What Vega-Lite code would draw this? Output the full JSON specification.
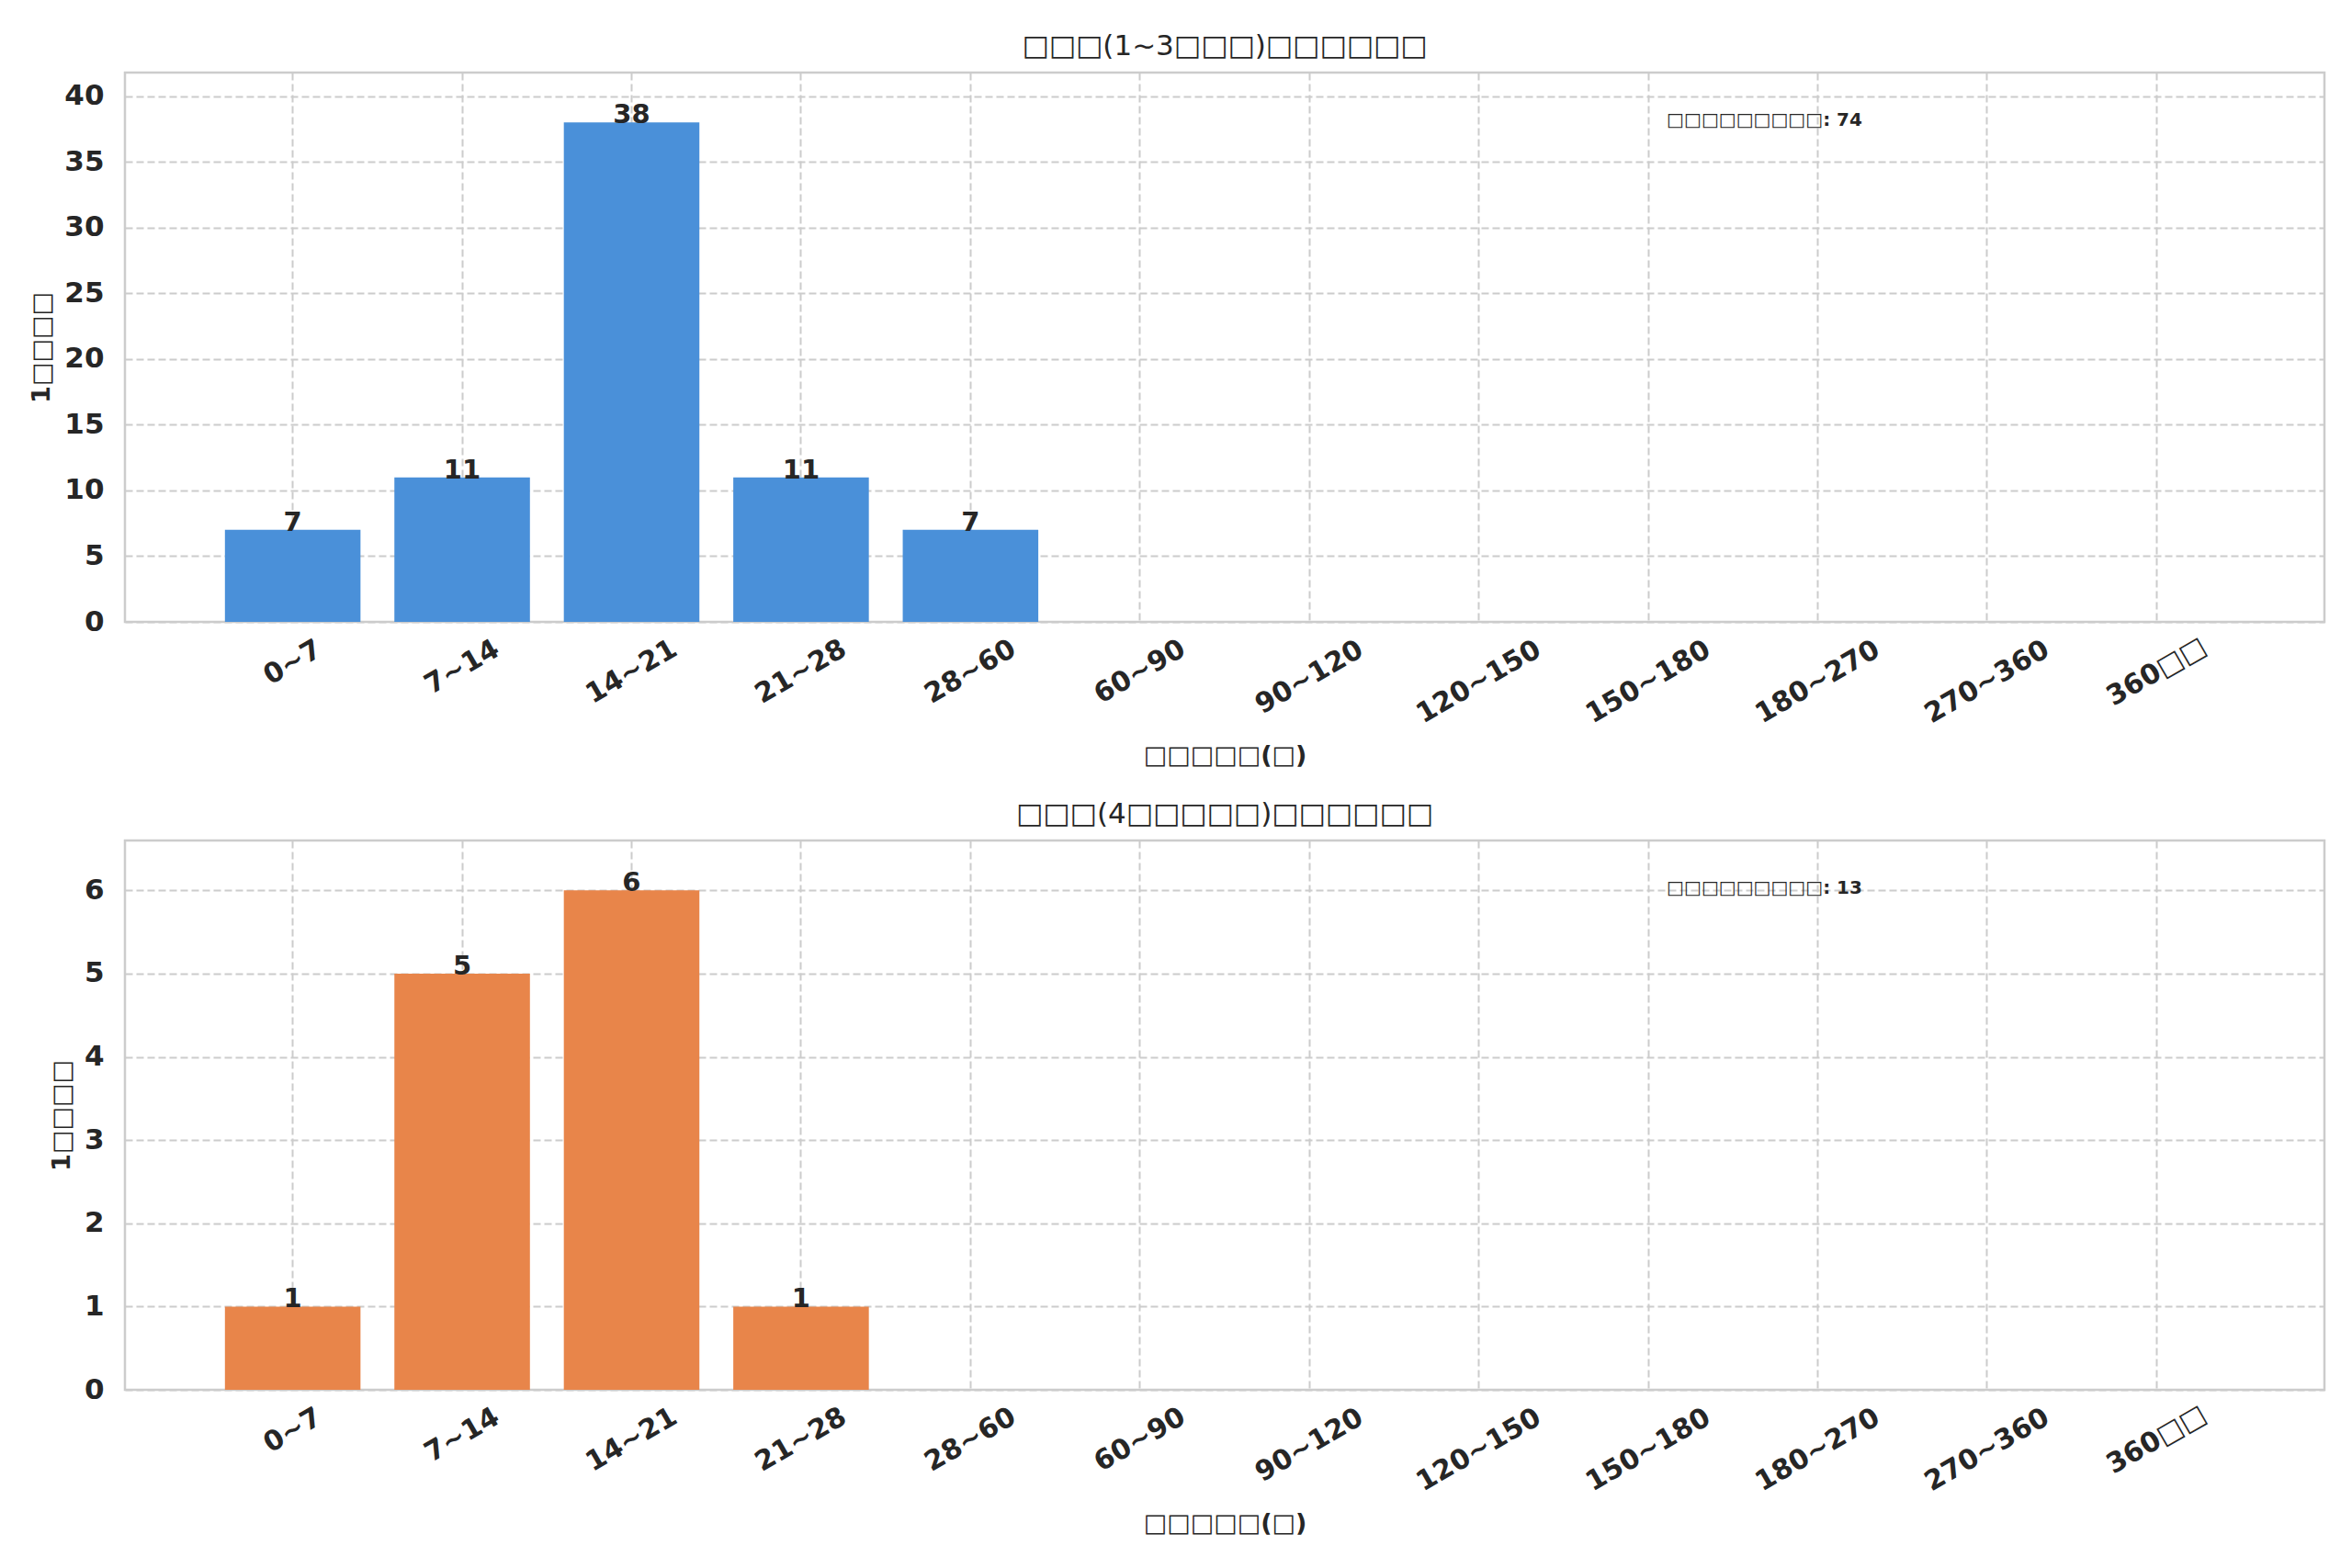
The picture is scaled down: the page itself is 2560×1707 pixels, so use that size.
{
  "$schema": "https://vega.github.io/schema/vega-lite/v6.json",
  "background": "white",
  "padding": {"left": 30, "top": 33, "right": 31, "bottom": 10},
  "datasets": {
    "young": [
      {"bin": "0~7", "count": 7},
      {"bin": "7~14", "count": 11},
      {"bin": "14~21", "count": 38},
      {"bin": "21~28", "count": 11},
      {"bin": "28~60", "count": 7},
      {"bin": "60~90", "count": 0},
      {"bin": "90~120", "count": 0},
      {"bin": "120~150", "count": 0},
      {"bin": "150~180", "count": 0},
      {"bin": "180~270", "count": 0},
      {"bin": "270~360", "count": 0},
      {"bin": "360□□", "count": 0}
    ],
    "old": [
      {"bin": "0~7", "count": 1},
      {"bin": "7~14", "count": 5},
      {"bin": "14~21", "count": 6},
      {"bin": "21~28", "count": 1},
      {"bin": "28~60", "count": 0},
      {"bin": "60~90", "count": 0},
      {"bin": "90~120", "count": 0},
      {"bin": "120~150", "count": 0},
      {"bin": "150~180", "count": 0},
      {"bin": "180~270", "count": 0},
      {"bin": "270~360", "count": 0},
      {"bin": "360□□", "count": 0}
    ],
    "young_note": [{"bin": "150~180", "label": "□□□□□□□□□: 74"}],
    "old_note": [{"bin": "150~180", "label": "□□□□□□□□□: 13"}]
  },
  "spacing": 32,
  "vconcat": [
    {
      "width": 2394,
      "height": 598,
      "title": "□□□(1~3□□□)□□□□□□",
      "encoding": {
        "x": {
          "field": "bin",
          "type": "nominal",
          "sort": null,
          "title": "□□□□□(□)",
          "scale": {
            "domain": ["0~7", "7~14", "14~21", "21~28", "28~60", "60~90", "90~120", "120~150", "150~180", "180~270", "270~360", "360□□"],
            "paddingInner": 0.2,
            "paddingOuter": 0.59
          }
        }
      },
      "layer": [
        {
          "data": {"name": "young"},
          "mark": {"type": "bar", "color": "#4A90D9"},
          "encoding": {
            "y": {
              "field": "count",
              "type": "quantitative",
              "title": "1□□□□",
              "scale": {"domain": [0, 41.8], "nice": false},
              "axis": {"values": [0, 5, 10, 15, 20, 25, 30, 35, 40], "format": "d"}
            }
          }
        },
        {
          "data": {"name": "young"},
          "transform": [{"filter": "datum.count > 0"}],
          "mark": {"type": "text", "baseline": "alphabetic", "dy": 1, "fontSize": 29, "fontWeight": "bold", "font": "DejaVu Sans", "color": "#262626"},
          "encoding": {
            "y": {"field": "count", "type": "quantitative"},
            "text": {"field": "count"}
          }
        },
        {
          "data": {"name": "young_note"},
          "mark": {"type": "text", "align": "left", "baseline": "middle", "dx": 20, "fontSize": 20, "fontWeight": "bold", "font": "DejaVu Sans", "color": "#262626"},
          "encoding": {
            "y": {"datum": 38.2, "type": "quantitative"},
            "text": {"field": "label", "type": "nominal"}
          }
        }
      ]
    },
    {
      "width": 2394,
      "height": 598,
      "title": "□□□(4□□□□□)□□□□□□",
      "encoding": {
        "x": {
          "field": "bin",
          "type": "nominal",
          "sort": null,
          "title": "□□□□□(□)",
          "scale": {
            "domain": ["0~7", "7~14", "14~21", "21~28", "28~60", "60~90", "90~120", "120~150", "150~180", "180~270", "270~360", "360□□"],
            "paddingInner": 0.2,
            "paddingOuter": 0.59
          }
        }
      },
      "layer": [
        {
          "data": {"name": "old"},
          "mark": {"type": "bar", "color": "#E8854A"},
          "encoding": {
            "y": {
              "field": "count",
              "type": "quantitative",
              "title": "1□□□□",
              "scale": {"domain": [0, 6.6], "nice": false},
              "axis": {"values": [0, 1, 2, 3, 4, 5, 6], "format": "d"}
            }
          }
        },
        {
          "data": {"name": "old"},
          "transform": [{"filter": "datum.count > 0"}],
          "mark": {"type": "text", "baseline": "alphabetic", "dy": 1, "fontSize": 29, "fontWeight": "bold", "font": "DejaVu Sans", "color": "#262626"},
          "encoding": {
            "y": {"field": "count", "type": "quantitative"},
            "text": {"field": "count"}
          }
        },
        {
          "data": {"name": "old_note"},
          "mark": {"type": "text", "align": "left", "baseline": "middle", "dx": 20, "fontSize": 20, "fontWeight": "bold", "font": "DejaVu Sans", "color": "#262626"},
          "encoding": {
            "y": {"datum": 6.03, "type": "quantitative"},
            "text": {"field": "label", "type": "nominal"}
          }
        }
      ]
    }
  ],
  "config": {
    "font": "DejaVu Sans",
    "view": {"stroke": "#cccccc", "strokeWidth": 2.5},
    "title": {"fontSize": 31, "fontWeight": "normal", "color": "#262626", "offset": 12, "font": "DejaVu Sans"},
    "axis": {
      "domain": false,
      "ticks": false,
      "tickSize": 0,
      "grid": true,
      "gridColor": "#cccccc",
      "gridDash": [8, 4],
      "gridWidth": 2,
      "labelFont": "DejaVu Sans",
      "labelFontWeight": "bold",
      "labelFontSize": 30,
      "labelColor": "#262626",
      "titleFont": "DejaVu Sans",
      "titleFontWeight": "bold",
      "titleFontSize": 27,
      "titleColor": "#262626"
    },
    "axisX": {
      "bandPosition": 0.5,
      "labelAngle": -30,
      "labelAlign": "center",
      "labelBaseline": "middle",
      "labelPadding": {
        "condition": [
          {"test": "length(datum.label) <= 3", "value": 44},
          {"test": "length(datum.label) == 4", "value": 49},
          {"test": "length(datum.label) == 5", "value": 54},
          {"test": "length(datum.label) == 6", "value": 60}
        ],
        "value": 65
      },
      "titlePadding": 17
    },
    "axisY": {
      "labelPadding": 23,
      "labelFontSize": 31,
      "titlePadding": 10
    }
  }
}
